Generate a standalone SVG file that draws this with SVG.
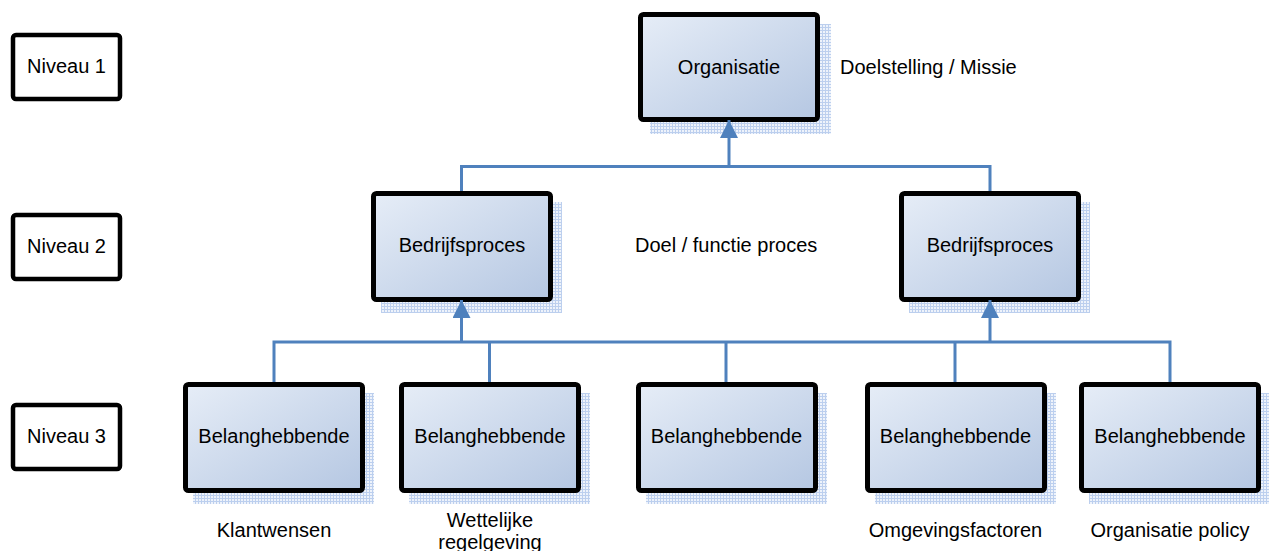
<svg xmlns="http://www.w3.org/2000/svg" width="1269" height="551" viewBox="0 0 1269 551">
<style>
  text { font-family: "Liberation Sans", Arial, sans-serif; font-size: 20px; fill: #000; }
  .mid { text-anchor: middle; }
  .box { fill: url(#boxfill); stroke: #000; stroke-width: 5; }
  .shadow { fill: url(#grid); }
  .lvl { fill: #fff; stroke: #000; stroke-width: 4.5; }
  .conn { fill: none; stroke: #4f81bd; stroke-width: 3; }
</style>
<defs>
  <linearGradient id="boxfill" x1="0" y1="0" x2="1" y2="1">
    <stop offset="0" stop-color="#e6edf7"/>
    <stop offset="1" stop-color="#b5c7e2"/>
  </linearGradient>
  <pattern id="grid" width="3" height="3" patternUnits="userSpaceOnUse">
    <rect width="3" height="3" fill="#eef3fb"/>
    <path d="M0 0.5H3M0.5 0V3" stroke="#bccfee" stroke-width="1"/>
  </pattern>
  <marker id="arrow" viewBox="0 0 18 18" refX="18" refY="9" markerWidth="18" markerHeight="18" markerUnits="userSpaceOnUse" orient="auto">
    <path d="M0,0 L18,9 L0,18 z" fill="#4f81bd"/>
  </marker>
</defs>

<g id="niveau1">
  <rect class="lvl" x="13" y="35" width="107" height="64" rx="3"/>
  <text class="mid" x="66.5" y="73">Niveau 1</text>
</g>
<g id="niveau2">
  <rect class="lvl" x="13" y="215" width="107" height="64" rx="3"/>
  <text class="mid" x="66.5" y="253">Niveau 2</text>
</g>
<g id="niveau3">
  <rect class="lvl" x="13" y="405" width="107" height="64" rx="3"/>
  <text class="mid" x="66.5" y="443">Niveau 3</text>
</g>

<g id="organisatie">
  <rect class="shadow" x="650" y="24" width="181" height="110"/>
  <rect class="box" x="640.5" y="14.5" width="177" height="105" rx="3"/>
  <text class="mid" x="729" y="74">Organisatie</text>
</g>
<text id="doelstelling" x="840" y="74">Doelstelling / Missie</text>

<g id="bedrijfsproces1">
  <rect class="shadow" x="381" y="202" width="181" height="111"/>
  <rect class="box" x="373.5" y="193.5" width="177" height="106" rx="3"/>
  <text class="mid" x="462" y="252">Bedrijfsproces</text>
</g>
<text id="doel" x="635" y="252">Doel / functie proces</text>
<g id="bedrijfsproces2">
  <rect class="shadow" x="909" y="202" width="181" height="111"/>
  <rect class="box" x="901.5" y="193.5" width="177" height="106" rx="3"/>
  <text class="mid" x="990" y="252">Bedrijfsproces</text>
</g>

<g id="belang1">
  <rect class="shadow" x="193" y="393" width="181" height="111"/>
  <rect class="box" x="185.5" y="384.5" width="177" height="106" rx="3"/>
  <text class="mid" x="274" y="443">Belanghebbende</text>
  <text class="mid" x="274" y="537">Klantwensen</text>
</g>
<g id="belang2">
  <rect class="shadow" x="409" y="393" width="181" height="111"/>
  <rect class="box" x="401.5" y="384.5" width="177" height="106" rx="3"/>
  <text class="mid" x="490" y="443">Belanghebbende</text>
  <text class="mid" x="490" y="527">Wettelijke</text>
  <text class="mid" x="490" y="549">regelgeving</text>
</g>
<g id="belang3">
  <rect class="shadow" x="646" y="393" width="181" height="111"/>
  <rect class="box" x="638.5" y="384.5" width="177" height="106" rx="3"/>
  <text class="mid" x="726.5" y="443">Belanghebbende</text>
</g>
<g id="belang4">
  <rect class="shadow" x="875" y="393" width="181" height="111"/>
  <rect class="box" x="867.5" y="384.5" width="177" height="106" rx="3"/>
  <text class="mid" x="955.5" y="443">Belanghebbende</text>
  <text class="mid" x="955.5" y="537">Omgevingsfactoren</text>
</g>
<g id="belang5">
  <rect class="shadow" x="1089" y="393" width="181" height="111"/>
  <rect class="box" x="1081.5" y="384.5" width="177" height="106" rx="3"/>
  <text class="mid" x="1170" y="443">Belanghebbende</text>
  <text class="mid" x="1170" y="537">Organisatie policy</text>
</g>

<g id="connectors">
  <path class="conn" d="M461.5,191 V166.5 H990 V191"/>
  <path class="conn" d="M729,166.5 V120" marker-end="url(#arrow)"/>
  <path class="conn" d="M274,382 V342 H1170 V382"/>
  <path class="conn" d="M489.5,342 V382"/>
  <path class="conn" d="M726,342 V382"/>
  <path class="conn" d="M955,342 V382"/>
  <path class="conn" d="M461.5,342 V300" marker-end="url(#arrow)"/>
  <path class="conn" d="M990,342 V300" marker-end="url(#arrow)"/>
</g>
</svg>
